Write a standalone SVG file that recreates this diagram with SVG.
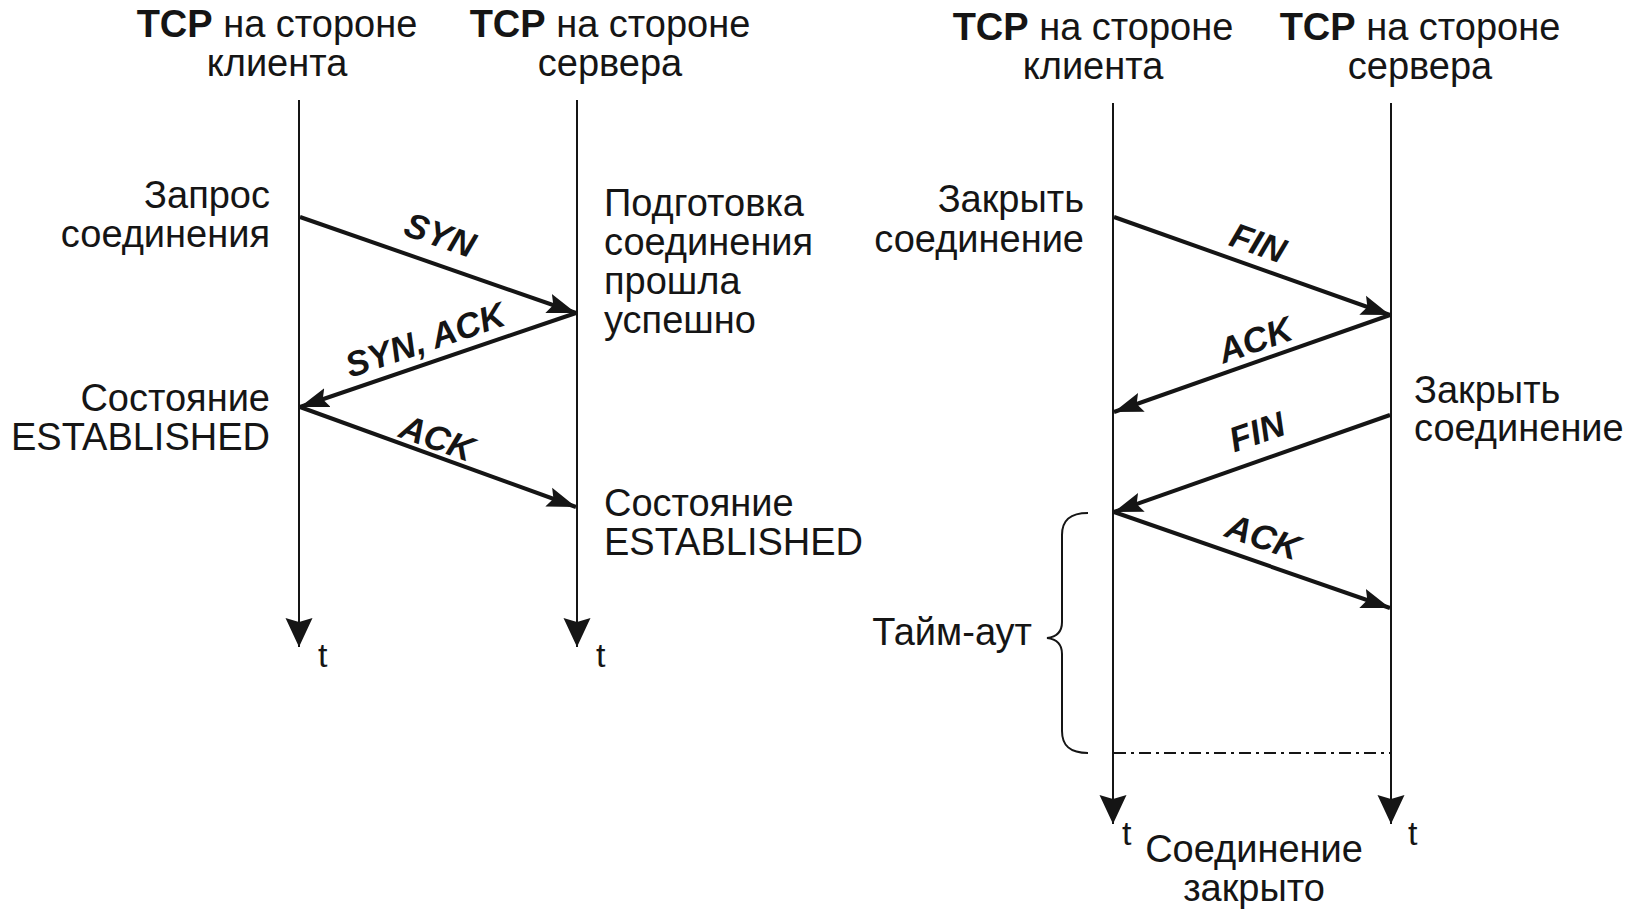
<svg xmlns="http://www.w3.org/2000/svg" width="1640" height="912" viewBox="0 0 1640 912">
<defs>
<style>
text{font-family:"Liberation Sans",Arial,sans-serif;fill:#151515}
.h{font-size:38px;text-anchor:middle}
.b{font-weight:bold}
.l{font-size:38px}
.r{text-anchor:end}
.p{font-size:35px;font-weight:bold;font-style:italic;text-anchor:middle}
.t{font-size:34px}
.axis{stroke:#151515;stroke-width:2;fill:none}
.msg{stroke:#151515;stroke-width:4;fill:none;marker-end:url(#ah)}
</style>
<marker id="ah" markerUnits="userSpaceOnUse" markerWidth="30" markerHeight="22" refX="29" refY="11" orient="auto">
<path d="M0,1 L29,11 L0,21 L5,11 z" fill="#151515"/>
</marker>
<marker id="ta" markerUnits="userSpaceOnUse" markerWidth="30" markerHeight="28" refX="29" refY="14" orient="auto">
<path d="M0,0.5 L29,14 L0,27.5 L4,14 z" fill="#151515"/>
</marker>
</defs>
<rect width="1640" height="912" fill="#ffffff"/>

<g id="left-client">
<text class="h" x="277" y="37"><tspan class="b">TCP</tspan> на стороне</text>
<text class="h" x="277" y="76">клиента</text>
<line class="axis" x1="299" y1="100" x2="299" y2="647" marker-end="url(#ta)"/>
<text class="t" x="318" y="667">t</text>
<text class="l r" x="270" y="208">Запрос</text>
<text class="l r" x="270" y="247">соединения</text>
<text class="l r" x="270" y="411">Состояние</text>
<text class="l r" x="270" y="450">ESTABLISHED</text>
</g>

<g id="left-server">
<text class="h" x="610" y="37"><tspan class="b">TCP</tspan> на стороне</text>
<text class="h" x="610" y="76">сервера</text>
<line class="axis" x1="577" y1="100" x2="577" y2="647" marker-end="url(#ta)"/>
<text class="t" x="596" y="667">t</text>
<text class="l" x="604" y="216">Подготовка</text>
<text class="l" x="604" y="255">соединения</text>
<text class="l" x="604" y="294">прошла</text>
<text class="l" x="604" y="333">успешно</text>
<text class="l" x="604" y="516">Состояние</text>
<text class="l" x="604" y="555">ESTABLISHED</text>
</g>

<g id="right-client">
<text class="h" x="1093" y="40"><tspan class="b">TCP</tspan> на стороне</text>
<text class="h" x="1093" y="79">клиента</text>
<line class="axis" x1="1113" y1="103" x2="1113" y2="824" marker-end="url(#ta)"/>
<text class="t" x="1122" y="845">t</text>
<text class="l r" x="1084" y="212">Закрыть</text>
<text class="l r" x="1084" y="252">соединение</text>
<text class="l r" x="1032" y="645">Тайм-аут</text>
<path class="axis" d="M1088,513 C1070,513 1062,520 1062,535 L1062,622 C1062,632 1056,637 1047,638 C1056,639 1062,644 1062,654 L1062,731 C1062,746 1070,753 1088,753" stroke-width="1.6"/>
</g>

<g id="right-server">
<text class="h" x="1420" y="40"><tspan class="b">TCP</tspan> на стороне</text>
<text class="h" x="1420" y="79">сервера</text>
<line class="axis" x1="1391" y1="103" x2="1391" y2="824" marker-end="url(#ta)"/>
<text class="t" x="1408" y="845">t</text>
<text class="l" x="1414" y="403">Закрыть</text>
<text class="l" x="1414" y="441">соединение</text>
</g>

<g id="closed">
<text class="l" x="1254" y="862" text-anchor="middle">Соединение</text>
<text class="l" x="1254" y="901" text-anchor="middle">закрыто</text>
</g>

<g id="connectors">
<line class="msg" x1="300" y1="217" x2="576" y2="313"/>
<line class="msg" x1="576" y1="313" x2="300" y2="407"/>
<line class="msg" x1="300" y1="407" x2="576" y2="507"/>
<line class="msg" x1="1114" y1="217" x2="1390" y2="315"/>
<line class="msg" x1="1390" y1="315" x2="1114" y2="412"/>
<line class="msg" x1="1390" y1="415" x2="1114" y2="512"/>
<line class="msg" x1="1114" y1="512" x2="1390" y2="608"/>
<line x1="1114" y1="753" x2="1390" y2="753" stroke="#151515" stroke-width="2" stroke-dasharray="12 5 3 5"/>
<text class="p" transform="translate(440,235) rotate(19.1)" y="12">SYN</text>
<text class="p" transform="translate(425,340) rotate(-18.7)" y="12">SYN, ACK</text>
<text class="p" transform="translate(437,438) rotate(19.9)" y="12">ACK</text>
<text class="p" transform="translate(1258,243) rotate(19.4)" y="12">FIN</text>
<text class="p" transform="translate(1255,340) rotate(-19.2)" y="12">ACK</text>
<text class="p" transform="translate(1257,432) rotate(-19.2)" y="12">FIN</text>
<text class="p" transform="translate(1263,537) rotate(19)" y="12">ACK</text>
</g>
</svg>
